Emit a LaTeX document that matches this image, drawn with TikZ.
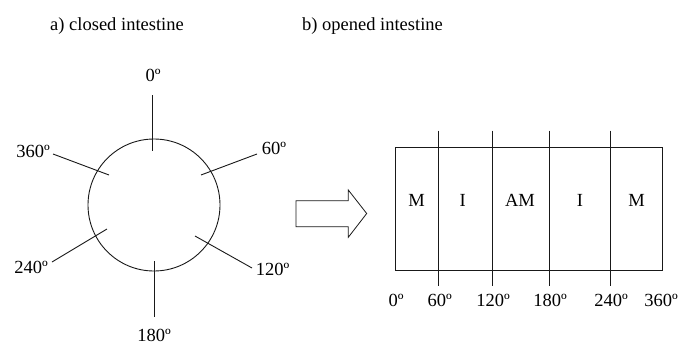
\documentclass[tikz,border=0pt]{standalone}
\usepackage{fontspec}
\setmainfont{Liberation Serif}
\begin{document}
\begin{tikzpicture}[x=1pt,y=-1pt,
  lbl/.style={inner sep=0pt,font=\fontsize{18.5}{22}\selectfont},
  ln/.style={line width=0.9pt,draw=black!90}]
\useasboundingbox (0,0) rectangle (678,346);
% titles
\node[lbl,anchor=base] (ta) at (117,30) {a) closed intestine};
\node[lbl,anchor=base] (tb) at (372.5,30) {b) opened intestine};
% closed intestine
\draw[line width=0.9pt,draw=black!90] (154,205) circle (66);
\coordinate (s0a) at (152,95);   \coordinate (s0b) at (152,151);
\coordinate (s60a) at (201,175); \coordinate (s60b) at (257,154);
\coordinate (s120a) at (195,236);\coordinate (s120b) at (252,268);
\coordinate (s180a) at (154,261);\coordinate (s180b) at (154,317);
\coordinate (s240a) at (107,229);\coordinate (s240b) at (52,262);
\coordinate (s360a) at (109,175);\coordinate (s360b) at (53,154);
\foreach \s in {0,60,120,180,240,360} \draw[ln] (s\s a) -- (s\s b);
\node[lbl] (c0) at (153,75) {0º};
\node[lbl] (c60) at (274,148.5) {60º};
\node[lbl] (c120) at (272.5,269.5) {120º};
\node[lbl] (c180) at (154,335) {180º};
\node[lbl] (c240) at (31,267.5) {240º};
\node[lbl] (c360) at (33,151.5) {360º};
% arrow
\draw[line width=0.8pt,draw=black!90,line join=miter]
  (296,200.7) -- (348.3,200.7) -- (348.3,190) -- (366.7,213.5)
  -- (348.3,237.3) -- (348.3,226.7) -- (296,226.7) -- cycle;
% opened intestine
\draw[ln] (395,147.3) rectangle (662.3,270);
\foreach \x/\n in {438.3/a,492.7/b,549.3/c,610.7/d}
  \draw[ln] (\x,130.7) -- (\x,286);
\node[lbl] (m1) at (416.7,200) {M};
\node[lbl] (i1) at (462.7,200) {I};
\node[lbl] (am) at (520,200) {AM};
\node[lbl] (i2) at (580,200) {I};
\node[lbl] (m2) at (636.7,200) {M};
\node[lbl] (b0) at (396,300) {0º};
\node[lbl] (b60) at (439.7,300) {60º};
\node[lbl] (b120) at (493,300) {120º};
\node[lbl] (b180) at (550,300) {180º};
\node[lbl] (b240) at (611,300) {240º};
\node[lbl] (b360) at (661,300) {360º};
\end{tikzpicture}
\end{document}
